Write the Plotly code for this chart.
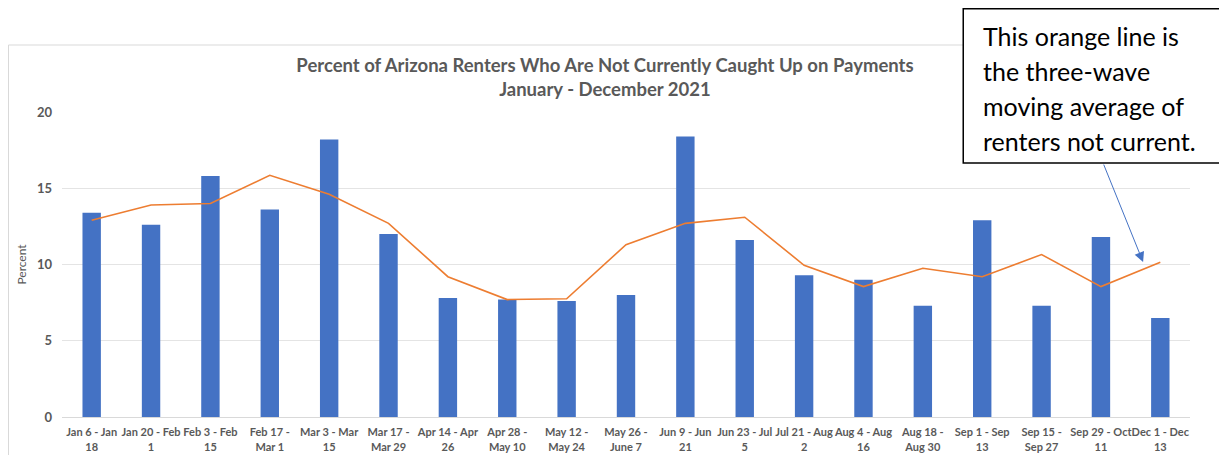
import plotly.graph_objects as go

# survey waves (two-line tick labels as in the source)
waves = ['Jan 6 - Jan<br>18', 'Jan 20 - Feb<br>1', 'Feb 3 - Feb<br>15', 'Feb 17 -<br>Mar 1',
         'Mar 3 - Mar<br>15', 'Mar 17 -<br>Mar 29', 'Apr 14 - Apr<br>26', 'Apr 28 -<br>May 10',
         'May 12 -<br>May 24', 'May 26 -<br>June 7', 'Jun 9 - Jun<br>21', 'Jun 23 - Jul<br>5',
         'Jul 21 - Aug<br>2', 'Aug 4 - Aug<br>16', 'Aug 18 -<br>Aug 30', 'Sep 1 - Sep<br>13',
         'Sep 15 -<br>Sep 27', 'Sep 29 - Oct<br>11', 'Dec 1 - Dec<br>13']
not_current = [13.4, 12.6, 15.8, 13.6, 18.2, 12.0, 7.8, 7.7, 7.6, 8.0,
               18.4, 11.6, 9.3, 9.0, 7.3, 12.9, 7.3, 11.8, 6.5]
moving_avg = [12.9, 13.9, 14.0, 15.85, 14.6, 12.7, 9.2, 7.7, 7.75, 11.3,
              12.7, 13.1, 9.95, 8.55, 9.75, 9.2, 10.65, 8.55, 10.15]
callout_lines = ['This orange line is', 'the three-wave',
                 'moving average of', 'renters not current.']

FONT = 'Lato'
GRAY = '#595959'

# page has an 8px body margin, so the figure is a bit smaller than the window
W, H = 1219, 447
L, R, T, B = 54, 37.3, 104, 38
PW, PH = W - L - R, H - T - B


def px(x):  # screen x -> paper
    return (x - 8 - L) / PW


def py(y):  # screen y -> paper
    return (H - B - (y - 8)) / PH


fig = go.Figure()
fig.add_trace(go.Bar(x=waves, y=not_current, marker_color='#4472C4',
                     marker_line_width=0, width=0.31, name='Percent'))
fig.add_trace(go.Scatter(x=waves, y=moving_avg, mode='lines',
                         line=dict(color='#ED7D31', width=1.6), name='Moving average'))

# chart frame
fig.add_shape(type='rect', xref='paper', yref='paper', x0=px(8.5), x1=px(1300),
              y0=py(520), y1=py(45), line=dict(color='#d9d9d9', width=1), layer='below')

# callout box
fig.add_shape(type='rect', xref='paper', yref='paper', x0=px(963), x1=px(1320),
              y0=py(163), y1=py(8.8), line=dict(color='black', width=1.5),
              fillcolor='white')
for i, line in enumerate(callout_lines):
    fig.add_annotation(xref='paper', yref='paper', x=px(981), y=py(36 + 35 * i),
                       xanchor='left', yanchor='middle', text=line, showarrow=False,
                       font=dict(family=FONT, size=25, color='black'))
fig.add_annotation(x=17.71, y=10.16, xref='x', yref='y', ax=-40, ay=-99, text='',
                   showarrow=True, arrowhead=2, arrowsize=2, arrowwidth=1,
                   arrowcolor='#4472C4')

fig.update_layout(
    width=W, height=H,
    margin=dict(l=L, r=R, t=T, b=B, autoexpand=False),
    paper_bgcolor='white', plot_bgcolor='white',
    showlegend=False,
    title=dict(text='<b>Percent of Arizona Renters Who Are Not Currently Caught Up on Payments<br>January - December 2021</b>',
               x=597 / W, xanchor='center', y=0.857, yanchor='top',
               font=dict(family=FONT, size=18.5, color=GRAY)),
    font=dict(family=FONT, color=GRAY),
    bargap=0.69,
)
fig.update_xaxes(tickfont=dict(size=11, color=GRAY, weight='bold'), tickangle=0,
                 automargin=False, showline=True, ticklabelstandoff=5,
                 linecolor='#d9d9d9', ticks='', showgrid=False)
fig.update_yaxes(range=[0, 20], dtick=5, showgrid=True, gridcolor='#e4e4e4',
                 automargin=False,
                 tickfont=dict(size=13, color=GRAY, weight='bold'), ticklabelstandoff=9,
                 title=dict(text='Percent', font=dict(size=12, color=GRAY), standoff=7),
                 zeroline=False)

fig.write_html('out.html')
